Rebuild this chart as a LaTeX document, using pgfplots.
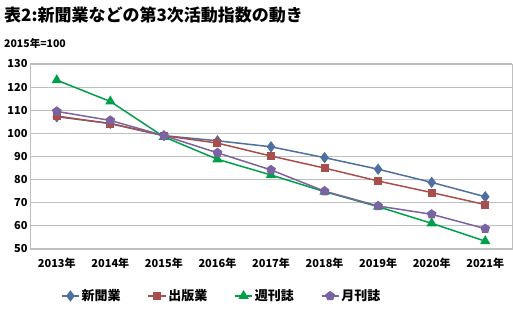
\documentclass[border=0pt]{standalone}
\usepackage{pgfplots}
\pgfplotsset{compat=1.18}
\usepackage{fontspec}
\setmainfont{Noto Sans CJK JP}
\usetikzlibrary{plotmarks}
\definecolor{cblue}{HTML}{4F6FA0}
\definecolor{cred}{HTML}{A84E4C}
\definecolor{cgreen}{HTML}{00A04A}
\definecolor{cpurple}{HTML}{7B62A0}
\definecolor{cgrid}{HTML}{BFBFBF}
\begin{document}
\begin{tikzpicture}[x=1pt,y=1pt]
\path[use as bounding box] (0,0) rectangle (513,323);
\node[anchor=west,inner sep=0pt,font=\fontsize{17}{17}\selectfont\bfseries] at (4,308) {表2:新聞業などの第3次活動指数の動き};
\node[anchor=west,inner sep=0pt,font=\fontsize{10.5}{10.5}\selectfont\bfseries] at (4,280) {2015年=100};
\begin{axis}[
  at={(30pt,74pt)}, anchor=south west,
  scale only axis, width=482pt, height=185pt,
  xmin=-0.5, xmax=8.5, ymin=50, ymax=130,
  xtick={0,...,8},
  xticklabels={2013年,2014年,2015年,2016年,2017年,2018年,2019年,2020年,2021年},
  ytick={50,60,...,130},
  ymajorgrids, grid style={cgrid, line width=1.2pt},
  axis line style={cgrid, line width=0.8pt},
  major tick length=0pt,
  tick label style={font=\fontsize{11}{11}\selectfont\bfseries},
  /pgf/number format/assume math mode=true,
  xticklabel style={yshift=-6pt},
  yticklabel style={xshift=1pt},
  legend columns=4,
  legend style={draw=none, fill=none, at={(0.058,-0.254)}, anchor=west,
    font=\fontsize{13}{13}\selectfont\bfseries,
    /tikz/every even column/.append style={column sep=25pt}},
  legend cell align=left,
  every axis plot/.append style={line width=1.5pt},
]
\addplot[cblue, mark=diamond*, mark size=4.5pt] coordinates {(0,107.2) (1,104.3) (2,99) (3,96.8) (4,94.2) (5,89.5) (6,84.5) (7,78.8) (8,72.6)};
\addlegendentry{新聞業}
\addplot[cred, mark=square*, mark size=3.2pt] coordinates {(0,107.5) (1,104.2) (2,99) (3,95.8) (4,90.2) (5,85) (6,79.4) (7,74.4) (8,69.2)};
\addlegendentry{出版業}
\addplot[cgreen, mark=triangle*, mark size=4.5pt] coordinates {(0,123) (1,113.8) (2,98.5) (3,88.8) (4,82) (5,74.8) (6,68.3) (7,61.1) (8,53.4)};
\addlegendentry{週刊誌}
\addplot[cpurple, mark=pentagon*, mark size=4.2pt] coordinates {(0,109.5) (1,105.6) (2,99) (3,91.6) (4,84.2) (5,75) (6,68.6) (7,65) (8,58.8)};
\addlegendentry{月刊誌}
\end{axis}
\end{tikzpicture}
\end{document}
